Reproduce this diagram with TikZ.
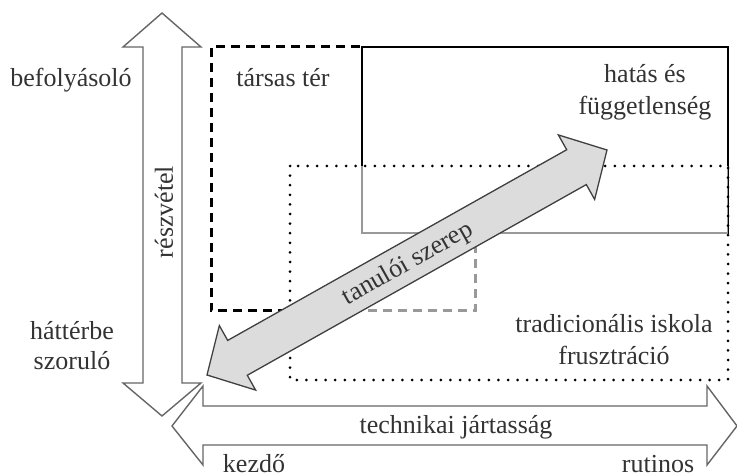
\documentclass[tikz,border=0pt]{standalone}
\usepackage{fontspec}
\setmainfont{Liberation Serif}
\newfontfamily\diagserif{Liberation Serif}
\usetikzlibrary{calc}
\definecolor{txt}{HTML}{333333}
\definecolor{arrowline}{HTML}{666666}
\definecolor{diagfill}{HTML}{DCDCDC}
\begin{document}
\begin{tikzpicture}[x=1pt,y=-1pt,
  lbl/.style={font=\diagserif\fontsize{26}{30}\selectfont, text=txt, inner sep=0pt, anchor=base},
  bigarrow/.style={draw=arrowline, line width=1.4pt, fill=white, line join=miter},
  diagarrow/.style={draw=black!75, line width=1.3pt, fill=diagfill, line join=miter},
  dashbox/.style={draw=black, line width=3pt, dash pattern=on 9pt off 6pt},
  solidbox/.style={draw=black, line width=2.6pt, fill=white},
  dotbox/.style={draw=black, line width=3pt, line cap=round, dash pattern=on 0pt off 9.6pt},
  veil/.style={fill=white, fill opacity=0.6}]
\useasboundingbox (0,0) rectangle (737,473);

% társas tér (dashed box; its upper right part lies under the solid box)
\draw[dashbox] (360,47) -- (211,47) -- (211,311) -- (475,311) -- (475,233);
% hatás és függetlenség (solid box)
\draw[solidbox] (362,47) rectangle (728,233);
% tradicionális iskola (dotted box)
\fill[veil] (290,166) rectangle (728,380);
\draw[dotbox] (290,166) rectangle (728,380);

% diagonal double arrow: tanulói szerep
\coordinate (dA) at (207,375);
\coordinate (dB) at (607,150);
\coordinate (dA1) at ($(dA)!35pt!(dB)$);
\coordinate (dB1) at ($(dB)!35pt!(dA)$);
\draw[diagarrow] (dA)
  -- ($(dA1)!37pt!90:(dB)$) -- ($(dA1)!20pt!90:(dB)$)
  -- ($(dB1)!20pt!-90:(dA)$) -- ($(dB1)!37pt!-90:(dA)$)
  -- (dB)
  -- ($(dB1)!37pt!90:(dA)$) -- ($(dB1)!20pt!90:(dA)$)
  -- ($(dA1)!20pt!-90:(dB)$) -- ($(dA1)!37pt!-90:(dB)$)
  -- cycle;
\node[lbl, anchor=center, rotate=29.36] (szerep) at (408,264) {tanulói szerep};

% vertical double arrow: részvétel
\draw[bigarrow] (143,383) -- (143,47) -- (123,47) -- (162,13) -- (201,47) -- (182,47)
  -- (182,383) -- (201,383) -- (162,416) -- (123,383) -- cycle;
\node[lbl, anchor=center, rotate=90] (reszvetel) at (164,212) {részvétel};

% horizontal double arrow: technikai jártasság
\draw[bigarrow] (203,406) -- (707,406) -- (707,386) -- (737,426) -- (707,465) -- (707,445)
  -- (203,445) -- (203,465) -- (172,426) -- (203,386) -- cycle;
\node[lbl] (techn) at (456,433) {technikai jártasság};

% labels
\node[lbl] (befoly) at (71,87) {befolyásoló};
\node[lbl] (hatter1) at (72,340) {háttérbe};
\node[lbl] (hatter2) at (72,370) {szoruló};
\node[lbl] (tarsas) at (283,87) {társas tér};
\node[lbl] (hatas1) at (645,83) {hatás és};
\node[lbl] (hatas2) at (645,115) {függetlenség};
\node[lbl] (trad1) at (614,333) {tradicionális iskola};
\node[lbl] (trad2) at (614,365) {frusztráció};
\node[lbl] (kezdo) at (254,472) {kezdő};
\node[lbl] (rutin) at (658,472) {rutinos};
\end{tikzpicture}
\end{document}
